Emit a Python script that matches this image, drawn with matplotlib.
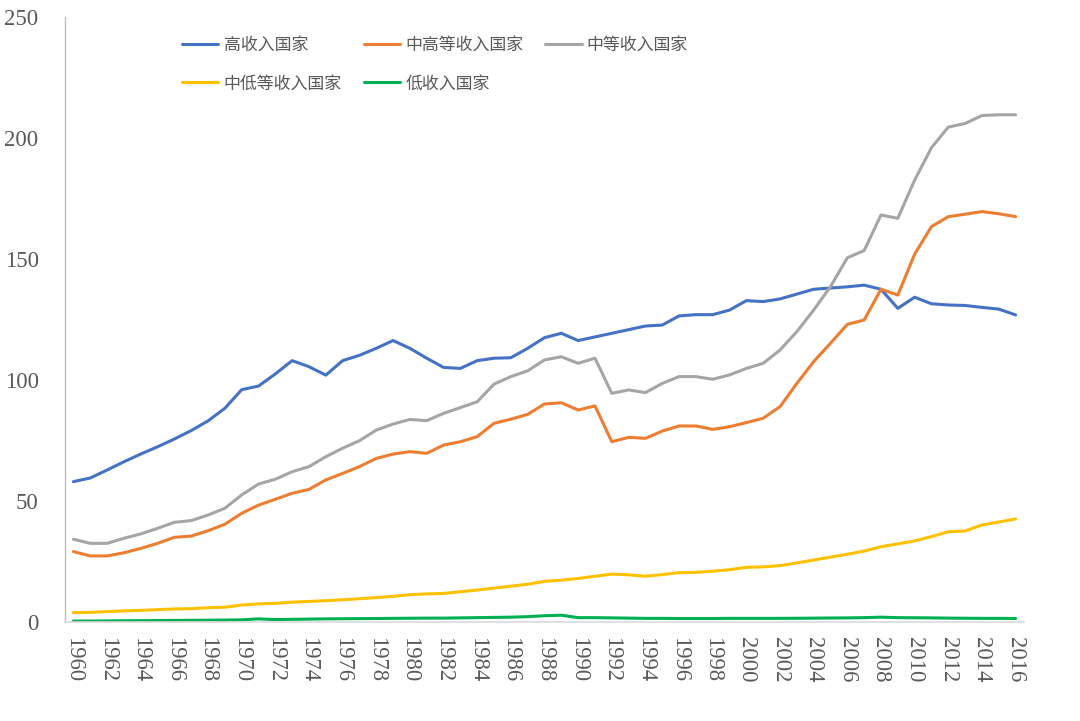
import numpy as np
import matplotlib
matplotlib.use('Agg')
import matplotlib.pyplot as plt

years = list(range(1960, 2017))

high = [58.0, 59.5, 62.8, 66.2, 69.4, 72.4, 75.6, 79.1, 83.1, 88.3,
        96.0, 97.5, 102.5, 108.0, 105.5, 102.0, 108.0, 110.2, 113.1, 116.3,
        113.1, 109.0, 105.2, 104.8, 108.0, 109.0, 109.2, 113.1, 117.5, 119.3,
        116.3, 117.8, 119.3, 120.8, 122.3, 122.7, 126.5, 127.0, 127.0, 128.9,
        132.8, 132.4, 133.5, 135.5, 137.5, 138.0, 138.5, 139.2, 137.5, 129.6,
        134.2, 131.5, 131.0, 130.8, 130.0, 129.3, 126.9]
upper_mid = [29.1, 27.3, 27.3, 28.6, 30.4, 32.5, 35.0, 35.5, 37.7, 40.4,
             44.9, 48.3, 50.7, 53.2, 54.8, 58.7, 61.4, 64.2, 67.6, 69.4,
             70.4, 69.7, 73.1, 74.5, 76.6, 82.1, 83.8, 85.8, 90.1, 90.6,
             87.6, 89.3, 74.5, 76.3, 75.9, 78.9, 81.0, 81.0, 79.6, 80.7,
             82.4, 84.2, 89.0, 98.6, 107.6, 115.2, 123.0, 124.8, 137.5, 135.1,
             152.0, 163.4, 167.5, 168.5, 169.6, 168.7, 167.5]
middle = [34.2, 32.5, 32.5, 34.6, 36.4, 38.7, 41.2, 41.9, 44.2, 47.0,
          52.5, 57.0, 59.0, 62.1, 64.2, 68.3, 71.8, 74.9, 79.3, 81.8,
          83.7, 83.2, 86.2, 88.6, 91.0, 98.3, 101.4, 103.8, 108.3, 109.6,
          106.9, 109.0, 94.5, 95.9, 94.8, 98.6, 101.4, 101.4, 100.3, 102.1,
          104.8, 106.9, 112.4, 120.0, 128.9, 138.6, 150.5, 153.5, 168.2, 166.8,
          182.6, 196.0, 204.5, 206.0, 209.3, 209.6, 209.6]
lower_mid = [3.9, 4.0, 4.3, 4.6, 4.8, 5.1, 5.4, 5.5, 5.9, 6.1,
             7.0, 7.5, 7.7, 8.2, 8.5, 8.8, 9.2, 9.6, 10.1, 10.6,
             11.3, 11.6, 11.8, 12.5, 13.2, 14.0, 14.8, 15.6, 16.8, 17.3,
             18.0, 18.9, 19.8, 19.5, 18.9, 19.6, 20.4, 20.5, 21.0, 21.6,
             22.6, 22.8, 23.3, 24.4, 25.6, 26.8, 28.0, 29.3, 31.1, 32.3,
             33.5, 35.3, 37.3, 37.6, 40.1, 41.3, 42.6]
low = [0.4, 0.4, 0.45, 0.5, 0.55, 0.6, 0.65, 0.7, 0.75, 0.8,
       0.9, 1.3, 1.0, 1.1, 1.2, 1.3, 1.35, 1.4, 1.45, 1.5,
       1.55, 1.6, 1.6, 1.7, 1.8, 1.9, 2.0, 2.2, 2.6, 2.8,
       1.8, 1.8, 1.7, 1.6, 1.5, 1.5, 1.45, 1.45, 1.45, 1.5,
       1.5, 1.5, 1.5, 1.55, 1.6, 1.65, 1.7, 1.8, 2.0, 1.8,
       1.75, 1.7, 1.6, 1.55, 1.5, 1.5, 1.45]

names = ['高收入国家', '中高等收入国家', '中等收入国家', '中低等收入国家', '低收入国家']
colors = ['#4472C4', '#ED7D31', '#A5A5A5', '#FFC000', '#00B050']
series = [high, upper_mid, middle, lower_mid, low]

txt = '#595959'

fig = plt.figure(figsize=(10.8, 7.21), dpi=100)
ax = fig.add_axes([65/1080, 1-622/721, (1024-65)/1080, (622-17)/721])

handles = {}
for name, c, s in zip(names, colors, series):
    ln, = ax.plot(years, s, color=c, lw=2.2, solid_joinstyle='round',
                  solid_capstyle='round')
    handles[name] = ln

ax.set_xlim(1959.5, 2016.5)
ax.set_ylim(0, 250)
ax.set_yticks(range(0, 251, 50))
ax.set_xticks(years[::2])
ax.set_xticklabels([str(y) for y in years[::2]], rotation=-90,
                   fontfamily='Liberation Serif', fontsize=16.3, color=txt)
ax.set_yticklabels([str(v) for v in range(0, 251, 50)],
                   fontfamily='Liberation Serif', fontsize=16.5, color=txt)
ax.tick_params(axis='x', length=0, pad=11)
ax.tick_params(axis='y', length=0, pad=19)

for s in ['top', 'right']:
    ax.spines[s].set_visible(False)
ax.spines['left'].set_color('#BFBFBF')
ax.spines['bottom'].set_color('#D9D9D9')
ax.spines['left'].set_linewidth(1.0)
ax.spines['bottom'].set_linewidth(1.2)

# legend is filled column-wise, so reorder to get reference row layout
order = ['高收入国家', '中低等收入国家', '中高等收入国家', '低收入国家', '中等收入国家']
leg = fig.legend([handles[n] for n in order], order, ncol=3,
                 loc='upper left', bbox_to_anchor=(182/1080, 1-36/721),
                 frameon=False, borderpad=0, borderaxespad=0,
                 handlelength=2.15, handletextpad=0.3, columnspacing=1.3,
                 labelspacing=1.2,
                 prop={'family': ['Noto Sans CJK SC', 'DejaVu Sans'],
                       'size': 12.2, 'weight': 'light'})
for t in leg.get_texts():
    t.set_color(txt)

fig.savefig('out.png', dpi=100)
